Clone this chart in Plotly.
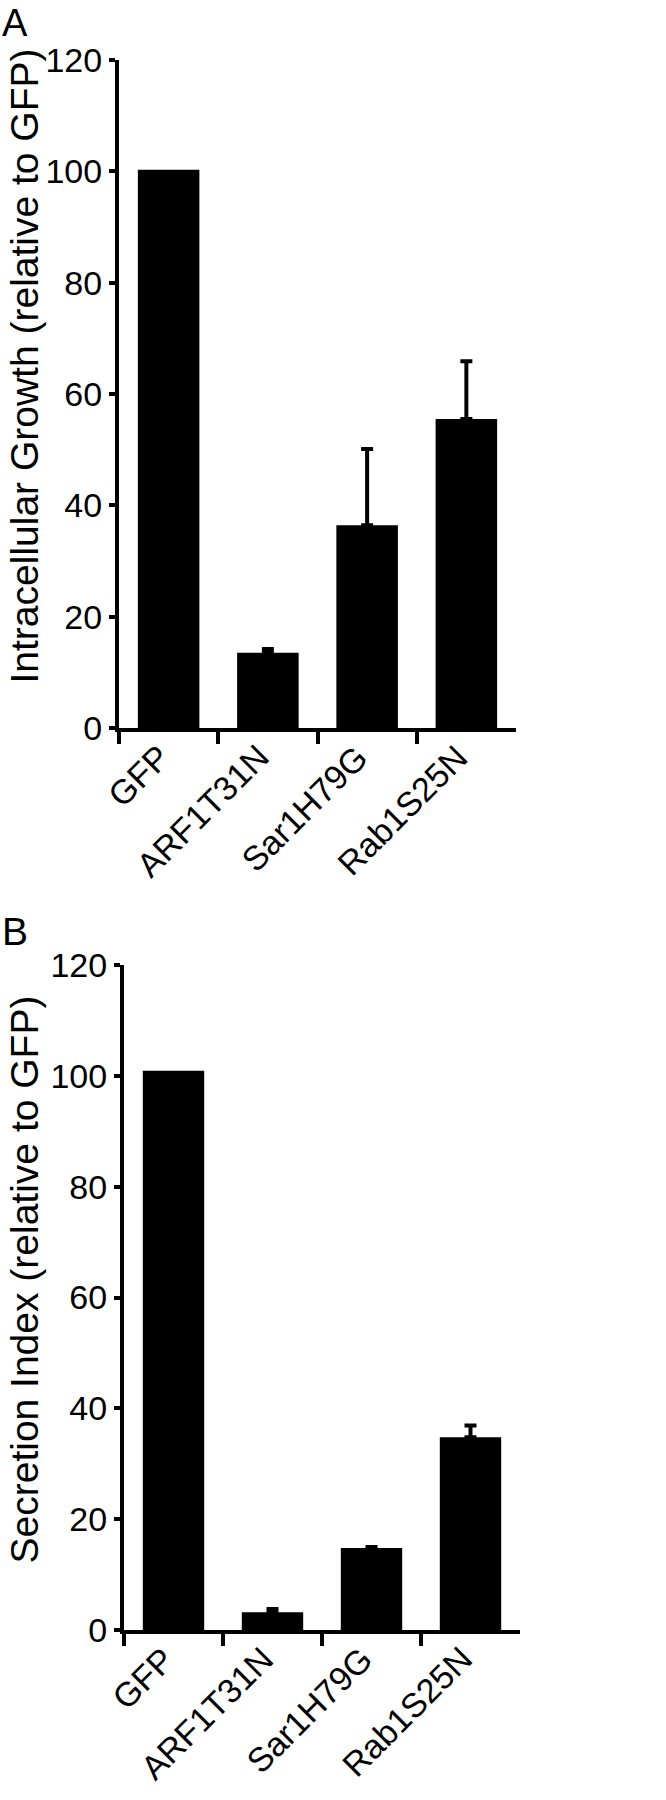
import plotly.graph_objects as go

# data
categories = ["GFP", "ARF1T31N", "Sar1H79G", "Rab1S25N"]

growth = [100.3, 13.5, 36.4, 55.5]
growth_err = [0, 0.7, 13.7, 10.4]

secretion = [100.9, 3.2, 14.8, 34.8]
secretion_err = [0, 0.6, 0.2, 2.1]

y_ticks = [0, 20, 40, 60, 80, 100, 120]

W, H = 666, 1800
FONT = "Liberation Sans, Arial, sans-serif"


def px_x(p):
    return p / W


def px_y(p):
    return 1 - p / H


fig = go.Figure()

panels = [(growth, growth_err, "x", "y"), (secretion, secretion_err, "x2", "y2")]
for vals, errs, xa, ya in panels:
    fig.add_trace(go.Bar(
        x=categories, y=vals, width=0.62,
        marker=dict(color="black", line=dict(width=0)),
        xaxis=xa, yaxis=ya, showlegend=False))
    # upper error bars only, skip bars without an error
    keep = [i for i, e in enumerate(errs) if e > 0]
    fig.add_trace(go.Scatter(
        x=[categories[i] for i in keep], y=[vals[i] for i in keep],
        mode="markers", marker=dict(size=1, opacity=0),
        error_y=dict(type="data", symmetric=False,
                     array=[errs[i] for i in keep],
                     arrayminus=[0] * len(keep),
                     color="black", thickness=4, width=6),
        xaxis=xa, yaxis=ya, showlegend=False, hoverinfo="skip"))

xstyle = dict(type="category", range=[-0.5, 3.5], showline=True, linewidth=4,
              linecolor="black", ticks="outside", tickson="boundaries",
              ticklen=12, tickwidth=4, tickcolor="black", showticklabels=False,
              showgrid=False, zeroline=False, automargin=False, fixedrange=True)
ystyle = dict(range=[0, 120], tickmode="array", tickvals=y_ticks,
              showline=True, linewidth=4, linecolor="black", ticks="outside",
              ticklen=6, tickwidth=4, tickcolor="black",
              tickfont=dict(family=FONT, size=34, color="black"),
              showgrid=False, zeroline=False, automargin=False, fixedrange=True)

fig.update_layout(
    width=W, height=H,
    margin=dict(l=0, r=0, t=0, b=0),
    paper_bgcolor="white", plot_bgcolor="white",
    xaxis=dict(domain=[px_x(119), px_x(516)], anchor="y", **xstyle),
    yaxis=dict(domain=[px_y(728), px_y(60)], anchor="x", **ystyle),
    xaxis2=dict(domain=[px_x(124), px_x(520)], anchor="y2", **xstyle),
    yaxis2=dict(domain=[px_y(1630), px_y(965)], anchor="x2", **ystyle),
)

# slanted category labels, placed on the category axis
for xa, top_px in [("x", 735), ("x2", 1637)]:
    for c in categories:
        fig.add_annotation(text=c, x=c, xref=xa, y=px_y(top_px), yref="paper",
                           textangle=-45, xanchor="right", yanchor="top",
                           xshift=11, showarrow=False,
                           font=dict(family=FONT, size=34, color="black"))

# axis titles and panel letters
fig.add_annotation(text="Intracellular Growth (relative to GFP)", textangle=-90,
                   x=px_x(0), y=px_y(366), xref="paper", yref="paper",
                   xanchor="left", yanchor="middle", showarrow=False,
                   font=dict(family=FONT, size=39, color="black"))
fig.add_annotation(text="Secretion Index (relative to GFP)", textangle=-90,
                   x=px_x(0), y=px_y(1280), xref="paper", yref="paper",
                   xanchor="left", yanchor="middle", showarrow=False,
                   font=dict(family=FONT, size=39, color="black"))
fig.add_annotation(text="A", x=0, y=px_y(0), xref="paper", yref="paper",
                   xanchor="left", yanchor="top", showarrow=False,
                   font=dict(family=FONT, size=38, color="black"))
fig.add_annotation(text="B", x=0, y=px_y(908), xref="paper", yref="paper",
                   xanchor="left", yanchor="top", showarrow=False,
                   font=dict(family=FONT, size=39, color="black"))

fig.write_html("out.html", config={"displayModeBar": False},
               post_script="document.body.style.margin='0';")
